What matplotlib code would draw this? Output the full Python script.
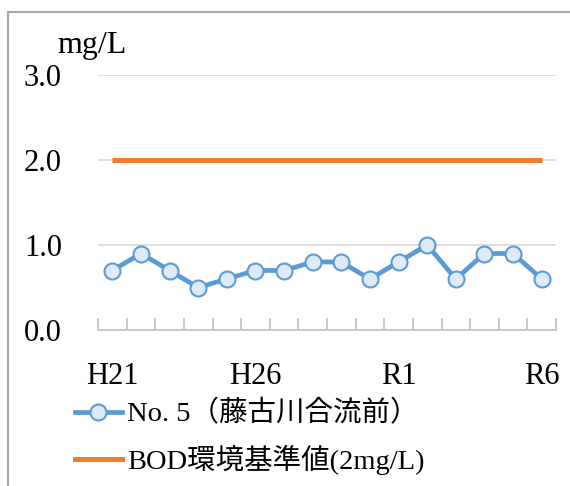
import matplotlib
matplotlib.use("Agg")
import matplotlib.pyplot as plt
from matplotlib.patches import Rectangle
from matplotlib.lines import Line2D

plt.rcParams['font.family'] = ['Liberation Serif', 'Noto Sans CJK JP']

years = ["H21", "H22", "H23", "H24", "H25", "H26", "H27", "H28", "H29", "H30",
         "R1", "R2", "R3", "R4", "R5", "R6"]
shown_labels = ["H21", "H26", "R1", "R6"]
bod_no5 = [0.7, 0.9, 0.7, 0.5, 0.6, 0.7, 0.7, 0.8, 0.8, 0.6, 0.8, 1.0, 0.6, 0.9, 0.9, 0.6]
standard = [2.0] * len(years)
series_names = ["No. 5（藤古川合流前）", "BOD環境基準値(2mg/L)"]
y_ticks = [0.0, 1.0, 2.0, 3.0]

W, H = 570, 486
fig = plt.figure(figsize=(W / 100, H / 100), dpi=100)
ax = fig.add_axes([98 / W, 1 - 330 / H, (556 - 98) / W, (330 - 75) / H])

x = list(range(len(years)))
blue = "#5B9BD5"
orange = "#ED7D31"

ax.plot(x, standard, color=orange, lw=3.6, solid_capstyle="butt", zorder=3)
ax.plot(x, bod_no5, color=blue, lw=3.4, marker="o", ms=11.5,
        mfc="#DEEBF7", mec=blue, mew=1.5, zorder=4)

ax.set_xlim(-0.5, len(years) - 0.5)
ax.set_ylim(0, 3)
ax.set_yticks(y_ticks)
ax.set_yticklabels([f"{v:.1f}" for v in y_ticks])
ax.yaxis.grid(True, color="#D9D9D9", lw=1.2)
ax.set_axisbelow(True)

ax.set_xticks([years.index(s) for s in shown_labels])
ax.set_xticklabels(shown_labels)
ax.set_xticks([i - 0.5 for i in range(len(years) + 1)], minor=True)
ax.tick_params(axis="x", which="major", length=0, pad=23, labelsize=22)
ax.tick_params(axis="x", which="minor", direction="in", length=9,
               width=1.2, color="#BFBFBF")
ax.tick_params(axis="y", length=0, pad=26, labelsize=22)

for side in ("left", "right", "top"):
    ax.spines[side].set_visible(False)
ax.spines["bottom"].set_color("#BFBFBF")
ax.spines["bottom"].set_linewidth(1.2)

fig.text(57 / W, 1 - 53 / H, "mg/L", fontsize=23, ha="left", va="baseline")

handles = [
    Line2D([], [], color=blue, lw=3.4, marker="o", ms=11.5,
           mfc="#DEEBF7", mec=blue, mew=1.5),
    Line2D([], [], color=orange, lw=3.6),
]
fig.legend(handles, series_names, loc="upper left",
           bbox_to_anchor=(66 / W, 1 - 392 / H), frameon=False,
           fontsize=20.5, handlelength=1.65, handletextpad=0.2,
           labelspacing=0.6, borderaxespad=0, borderpad=0.3)

fig.patches.append(Rectangle((8 / W, -0.2), 1.5, 0.2 + 1 - 12 / H,
                             transform=fig.transFigure, fill=False,
                             ec="#A6A6A6", lw=1.5, zorder=10))

fig.savefig("out.png", dpi=100)
